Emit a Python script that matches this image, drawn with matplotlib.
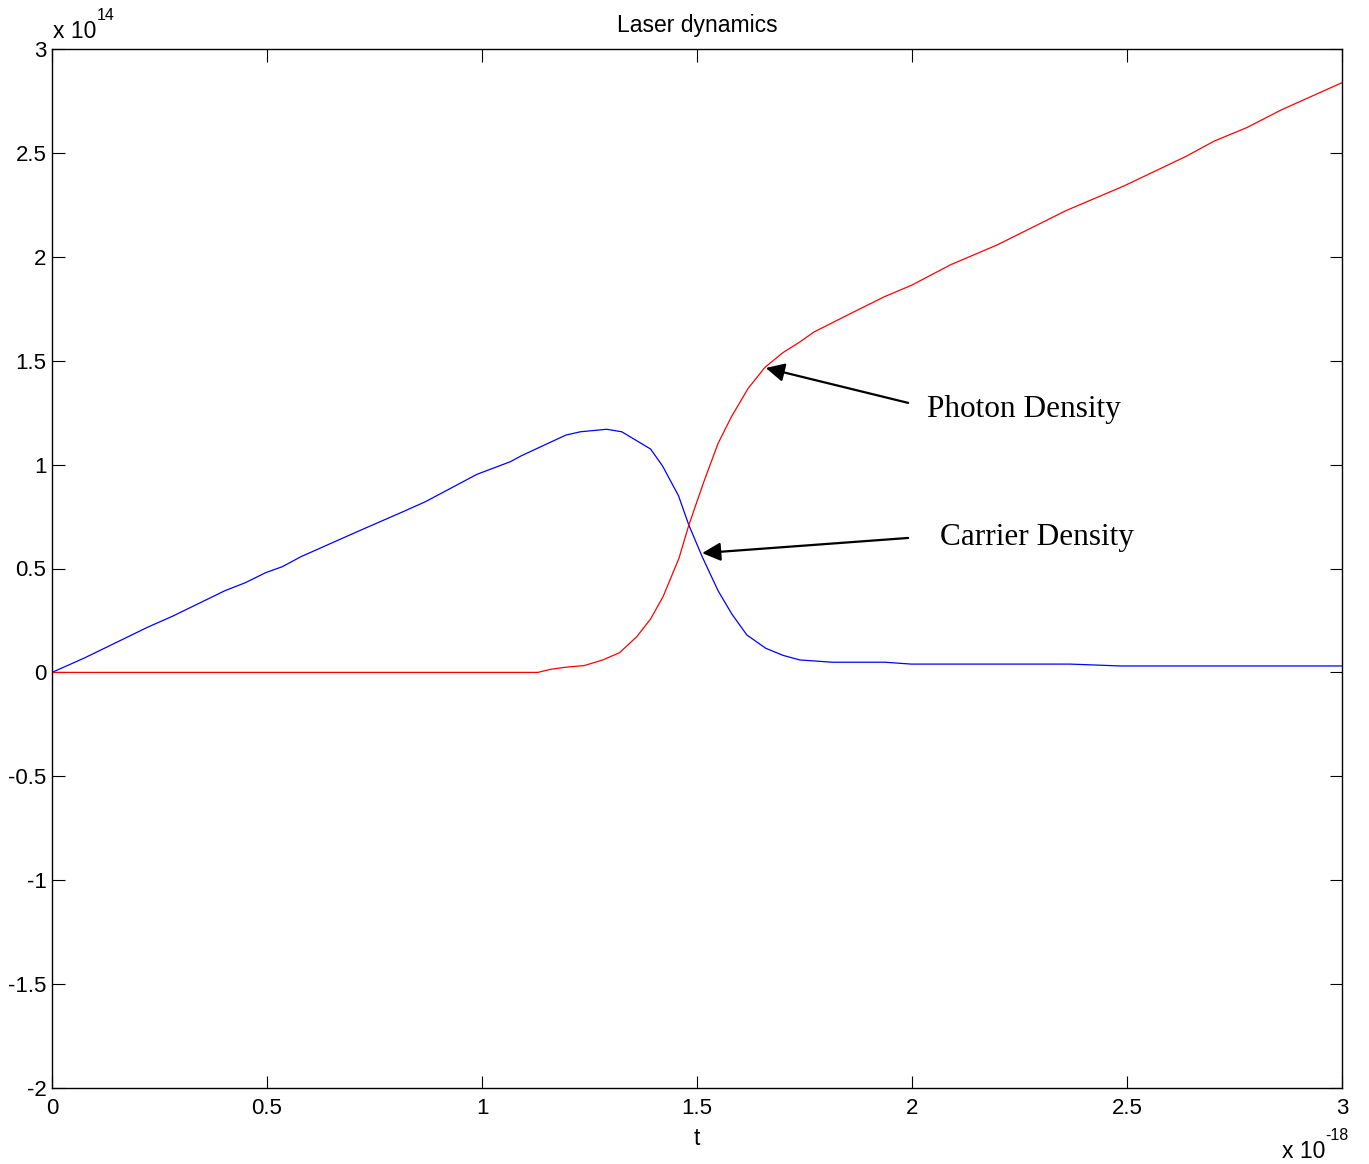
import matplotlib.pyplot as plt

plt.rcParams['font.family'] = ['Liberation Sans', 'DejaVu Sans']

# time in units of 1e-18, densities in units of 1e14
t_carrier = [0, 0.075, 0.222, 0.281, 0.402, 0.45, 0.497, 0.536, 0.579, 0.713, 0.816,
             0.868, 0.988, 1.066, 1.092, 1.195, 1.229, 1.29, 1.325, 1.392, 1.42, 1.457,
             1.481, 1.512, 1.549, 1.581, 1.616, 1.66, 1.70, 1.739, 1.814, 1.937, 1.998,
             2.368, 2.484, 3.0]
carrier = [0, 0.069, 0.217, 0.271, 0.393, 0.432, 0.48, 0.509, 0.557, 0.68, 0.773,
           0.821, 0.953, 1.014, 1.043, 1.142, 1.158, 1.17, 1.158, 1.075, 0.993, 0.85,
           0.709, 0.557, 0.393, 0.281, 0.18, 0.116, 0.082, 0.06, 0.049, 0.049, 0.04,
           0.04, 0.031, 0.031]

t_photon = [0, 1.13, 1.16, 1.195, 1.238, 1.281, 1.32, 1.36, 1.392, 1.421, 1.458, 1.481,
            1.516, 1.549, 1.58, 1.619, 1.658, 1.70, 1.739, 1.772, 1.861, 1.936, 2.0,
            2.089, 2.198, 2.358, 2.493, 2.636, 2.703, 2.779, 2.859, 3.0]
photon = [0, 0, 0.015, 0.025, 0.033, 0.06, 0.095, 0.172, 0.257, 0.364, 0.549, 0.709,
          0.918, 1.102, 1.23, 1.367, 1.468, 1.539, 1.59, 1.638, 1.731, 1.808, 1.864,
          1.961, 2.057, 2.222, 2.341, 2.482, 2.557, 2.622, 2.707, 2.838]

fig = plt.figure(figsize=(13.69, 11.64), dpi=100)
ax = fig.add_axes([52 / 1369, 1 - 1088 / 1164, 1290 / 1369, 1039 / 1164])

ax.plot(t_carrier, carrier, color='blue', lw=0.9)
ax.plot(t_photon, photon, color='red', lw=0.9)

ax.set_xlim(0, 3)
ax.set_ylim(-2, 3)
ax.set_xticks([0, 0.5, 1, 1.5, 2, 2.5, 3])
ax.set_xticklabels(['0', '0.5', '1', '1.5', '2', '2.5', '3'])
ax.set_yticks([-2, -1.5, -1, -0.5, 0, 0.5, 1, 1.5, 2, 2.5, 3])
ax.set_yticklabels(['-2', '-1.5', '-1', '-0.5', '0', '0.5', '1', '1.5', '2', '2.5', '3'])
ax.tick_params(direction='in', length=9, width=0.8, top=True, right=True, labelsize=16)
ax.tick_params(axis='x', pad=7)
ax.tick_params(axis='y', pad=4)
for s in ax.spines.values():
    s.set_linewidth(1.0)

ax.set_title('Laser dynamics', fontsize=16.5, pad=12)
ax.set_xlabel('t', fontsize=16.5, labelpad=6)

# MATLAB-style exponent labels
fig.text(53 / 1369, 1 - 31 / 1164, 'x 10', fontsize=16.5, va='center', ha='left')
fig.text(97 / 1369, 1 - 16 / 1164, '14', fontsize=11.5, va='center', ha='left')
fig.text(1325 / 1369, 1 - 1151 / 1164, 'x 10', fontsize=16.5, va='center', ha='right')
fig.text(1325 / 1369, 1 - 1136 / 1164, '-18', fontsize=11.5, va='center', ha='left')

arrow = dict(arrowstyle='-|>', color='black', lw=1.6, mutation_scale=28, shrinkA=0, shrinkB=0)
ax.annotate('', xy=(1.660, 1.465), xytext=(1.991, 1.297), arrowprops=arrow)
ax.annotate('', xy=(1.512, 0.574), xytext=(1.991, 0.647), arrowprops=arrow)
ax.text(2.035, 1.265, 'Photon Density', family='Liberation Serif', fontsize=22.5,
        va='center', ha='left')
ax.text(2.065, 0.65, 'Carrier Density', family='Liberation Serif', fontsize=22.5,
        va='center', ha='left')

fig.savefig('out.png', dpi=100)
